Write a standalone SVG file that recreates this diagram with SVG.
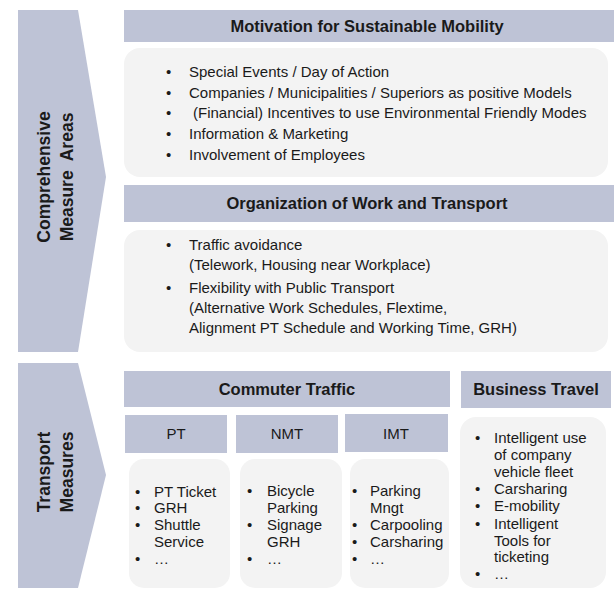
<svg xmlns="http://www.w3.org/2000/svg" width="616" height="589" viewBox="0 0 616 589">
<style>
.hdr{fill:#bec3d6}
.box{fill:#f3f3f3}
.chev{fill:#bec3d6}
text{font-family:"Liberation Sans",Arial,sans-serif;fill:#1a1a1a}
.ht{font-size:16.5px;font-weight:bold;text-anchor:middle}
.st{font-size:15px;text-anchor:middle}
.bt{font-size:15px}
.side{font-size:17.5px;font-weight:bold;text-anchor:middle}
</style>
<rect width="616" height="589" fill="#ffffff"/>
<g id="side-comprehensive">
<polygon class="chev" points="18,10 78,10 106,177 78,352 18,352"/>
<text class="side" transform="translate(50,177) rotate(-90)">Comprehensive</text>
<text class="side" transform="translate(73,177) rotate(-90)" xml:space="preserve">Measure  Areas</text>
</g>
<g id="side-transport">
<polygon class="chev" points="18,363 78,363 106,475 78,588 18,588"/>
<text class="side" transform="translate(50,472) rotate(-90)">Transport</text>
<text class="side" transform="translate(73,472) rotate(-90)">Measures</text>
</g>
<g id="motivation-header">
<rect class="hdr" x="124" y="10" width="490" height="32"/>
<text class="ht" x="367" y="32">Motivation for Sustainable Mobility</text>
</g>
<g id="motivation-content">
<rect class="box" x="124" y="48" width="484" height="129" rx="16"/>
<g class="bt">
<text x="166" y="77">•</text><text x="189" y="77">Special Events / Day of Action</text>
<text x="166" y="98">•</text><text x="189" y="98">Companies / Municipalities / Superiors as positive Models</text>
<text x="166" y="118">•</text><text x="193" y="118">(Financial) Incentives to use Environmental Friendly Modes</text>
<text x="166" y="139">•</text><text x="189" y="139">Information &amp; Marketing</text>
<text x="166" y="160">•</text><text x="189" y="160">Involvement of Employees</text>
</g>
</g>
<g id="organization-header">
<rect class="hdr" x="124" y="185" width="490" height="37"/>
<text class="ht" x="367" y="209">Organization of Work and Transport</text>
</g>
<g id="organization-content">
<rect class="box" x="124" y="230" width="484" height="122" rx="16"/>
<g class="bt">
<text x="166" y="250">•</text><text x="189" y="250">Traffic avoidance</text>
<text x="189" y="270">(Telework, Housing near Workplace)</text>
<text x="166" y="293">•</text><text x="189" y="293">Flexibility with Public Transport</text>
<text x="189" y="313">(Alternative Work Schedules, Flextime,</text>
<text x="189" y="333">Alignment PT Schedule and Working Time, GRH)</text>
</g>
</g>
<g id="commuter-header">
<rect class="hdr" x="124" y="371" width="326" height="36"/>
<text class="ht" x="287" y="395">Commuter Traffic</text>
</g>
<g id="business-header">
<rect class="hdr" x="461" y="371" width="150" height="37"/>
<text class="ht" x="536" y="395">Business Travel</text>
</g>
<g id="pt-header">
<rect class="hdr" x="125" y="415" width="102" height="38"/>
<text class="st" x="176" y="439">PT</text>
</g>
<g id="nmt-header">
<rect class="hdr" x="236" y="415" width="102" height="38"/>
<text class="st" x="287" y="439">NMT</text>
</g>
<g id="imt-header">
<rect class="hdr" x="345" y="414" width="103" height="38"/>
<text class="st" x="396" y="439">IMT</text>
</g>
<g id="pt-content">
<rect class="box" x="129" y="459" width="101" height="129" rx="15"/>
<g class="bt">
<text x="135" y="497">•</text><text x="154" y="497">PT Ticket</text>
<text x="135" y="513">•</text><text x="154" y="513">GRH</text>
<text x="135" y="530">•</text><text x="154" y="530">Shuttle</text>
<text x="154" y="547">Service</text>
<text x="135" y="564">•</text><text x="154" y="564">…</text>
</g>
</g>
<g id="nmt-content">
<rect class="box" x="240" y="459" width="102" height="129" rx="15"/>
<g class="bt">
<text x="247" y="496">•</text><text x="267" y="496">Bicycle</text>
<text x="267" y="513">Parking</text>
<text x="247" y="530">•</text><text x="267" y="530">Signage</text>
<text x="267" y="547">GRH</text>
<text x="247" y="564">•</text><text x="267" y="564">…</text>
</g>
</g>
<g id="imt-content">
<rect class="box" x="350" y="459" width="99" height="129" rx="15"/>
<g class="bt">
<text x="352" y="496">•</text><text x="370" y="496">Parking</text>
<text x="370" y="513">Mngt</text>
<text x="352" y="530">•</text><text x="370" y="530">Carpooling</text>
<text x="352" y="547">•</text><text x="370" y="547">Carsharing</text>
<text x="352" y="564">•</text><text x="370" y="564">…</text>
</g>
</g>
<g id="business-content">
<rect class="box" x="460" y="417" width="146" height="171" rx="16"/>
<g class="bt">
<text x="475" y="443">•</text><text x="494" y="443">Intelligent use</text>
<text x="494" y="460">of company</text>
<text x="494" y="477">vehicle fleet</text>
<text x="475" y="494">•</text><text x="494" y="494">Carsharing</text>
<text x="475" y="511">•</text><text x="494" y="511">E-mobility</text>
<text x="475" y="529">•</text><text x="494" y="529">Intelligent</text>
<text x="494" y="546">Tools for</text>
<text x="494" y="562">ticketing</text>
<text x="475" y="579">•</text><text x="494" y="579">…</text>
</g>
</g>
<g id="connectors"/>
</svg>
